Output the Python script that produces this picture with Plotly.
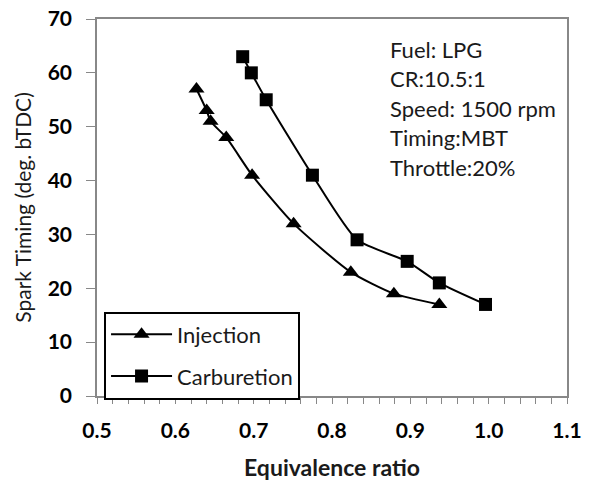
import plotly.graph_objects as go

inj_x = [0.627, 0.640, 0.645, 0.665, 0.698, 0.751, 0.824, 0.879, 0.937]
inj_y = [57, 53, 51, 48, 41, 32, 23, 19, 17]
carb_x = [0.686, 0.697, 0.716, 0.775, 0.832, 0.896, 0.937, 0.996]
carb_y = [63, 60, 55, 41, 29, 25, 21, 17]
x_ticks = [0.5, 0.6, 0.7, 0.8, 0.9, 1.0, 1.1]
x_labels = ["0.5", "0.6", "0.7", "0.8", "0.9", "1.0", "1.1"]
y_ticks = [0, 10, 20, 30, 40, 50, 60, 70]
info_lines = ["Fuel: LPG", "CR:10.5:1", "Speed: 1500 rpm", "Timing:MBT", "Throttle:20%"]

FONT = "Lato"
# page body has an 8px margin, so the figure is drawn 8px smaller
W, H = 583, 474
ML, MR, MT, MB = 89, 24, 11, 86
PLOT_H = H - MT - MB

fig = go.Figure()
fig.add_trace(go.Scatter(
    x=inj_x, y=inj_y, name="Injection", mode="lines+markers",
    line=dict(color="black", width=2, shape="spline", smoothing=0.6),
    marker=dict(symbol="triangle-up", size=14, color="black"),
    legendgroup="a"))
fig.add_trace(go.Scatter(
    x=carb_x, y=carb_y, name="Carburetion", mode="lines+markers",
    line=dict(color="black", width=2, shape="spline", smoothing=0.6),
    marker=dict(symbol="square", size=13, color="black"),
    legendgroup="b"))

# info text block, one annotation per line (line pitch ~29.6 px from plot top)
for i, line in enumerate(info_lines):
    dy = 30 + 29.6 * i
    fig.add_annotation(
        x=0.626, y=1 - dy / PLOT_H, xref="paper", yref="paper",
        showarrow=False, text=line, align="left",
        xanchor="left", yanchor="middle", xshift=-3,
        font=dict(family=FONT, size=22, color="#1a1a1a"))

fig.update_layout(
    width=W, height=H,
    margin=dict(l=ML, r=MR, t=MT, b=MB),
    paper_bgcolor="white", plot_bgcolor="white",
    font=dict(family=FONT, color="black"),
    showlegend=True,
    legend=dict(
        x=0.015, y=0.224, xanchor="left", yanchor="top",
        bordercolor="black", borderwidth=2, bgcolor="white",
        font=dict(family=FONT, size=22, color="#1a1a1a"),
        tracegroupgap=10, traceorder="grouped", itemwidth=61),
    xaxis=dict(
        range=[0.5, 1.1], tickvals=x_ticks, ticktext=x_labels,
        automargin=False, ticklabeloverflow="allow",
        showgrid=False, zeroline=False,
        showline=True, linecolor="#888", linewidth=1.5, mirror=True,
        ticks="outside", ticklen=6, tickcolor="#888", tickwidth=1,
        ticklabelstandoff=9,
        minor=dict(dtick=0.02, tick0=0.5, ticks="outside", ticklen=6,
                   tickcolor="#888", tickwidth=1, showgrid=False),
        tickfont=dict(family=FONT, size=21, color="black", weight="bold"),
        title=dict(text="Equivalence ratio", standoff=19,
                   font=dict(family=FONT, size=23, color="#1a1a1a", weight="bold"))),
    yaxis=dict(
        range=[0, 70], tickvals=y_ticks,
        automargin=False, ticklabeloverflow="allow",
        showgrid=False, zeroline=False,
        showline=True, linecolor="#888", linewidth=1.5, mirror=True,
        ticks="outside", ticklen=9, tickcolor="#888", tickwidth=1,
        ticklabelstandoff=10,
        tickfont=dict(family=FONT, size=21, color="black", weight="bold"),
        title=dict(text="Spark Timing (deg. bTDC)", standoff=10,
                   font=dict(family=FONT, size=21, color="#1a1a1a"))),
)

fig.write_html("out.html")
